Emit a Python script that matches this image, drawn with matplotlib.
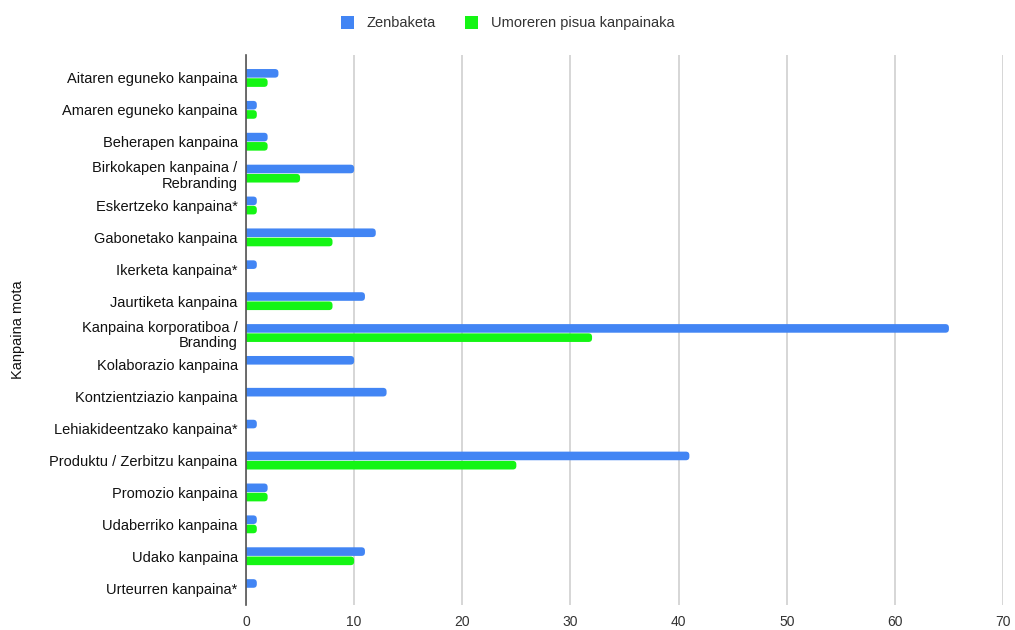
import matplotlib.pyplot as plt
from matplotlib.patches import FancyBboxPatch, Patch
import numpy as np

plt.rcParams['font.family'] = ['Liberation Sans', 'DejaVu Sans']

categories = [
    "Aitaren eguneko kanpaina",
    "Amaren eguneko kanpaina",
    "Beherapen kanpaina",
    "Birkokapen kanpaina /\nRebranding",
    "Eskertzeko kanpaina*",
    "Gabonetako kanpaina",
    "Ikerketa kanpaina*",
    "Jaurtiketa kanpaina",
    "Kanpaina korporatiboa /\nBranding",
    "Kolaborazio kanpaina",
    "Kontzientziazio kanpaina",
    "Lehiakideentzako kanpaina*",
    "Produktu / Zerbitzu kanpaina",
    "Promozio kanpaina",
    "Udaberriko kanpaina",
    "Udako kanpaina",
    "Urteurren kanpaina*",
]
zenbaketa = [3, 1, 2, 10, 1, 12, 1, 11, 65, 10, 13, 1, 41, 2, 1, 11, 1]
umorea = [2, 1, 2, 5, 1, 8, 0, 8, 32, 0, 0, 0, 25, 2, 1, 10, 0]
series_names = ['Zenbaketa', 'Umoreren pisua kanpainaka']
xticks = [0, 10, 20, 30, 40, 50, 60, 70]

blue = '#4285f4'
green = '#14f514'

W, H = 1015, 630
left_px, right_px, top_px, bottom_px = 246, 1003, 55, 605
fig = plt.figure(figsize=(W / 100, H / 100), dpi=100)
ax = fig.add_axes([left_px / W, 1 - bottom_px / H,
                   (right_px - left_px) / W, (bottom_px - top_px) / H])

n = len(categories)
y = np.arange(n)
ymin, ymax = -0.72, n - 1 + 0.53
xmax = 70
ax.set_ylim(ymax, ymin)
ax.set_xlim(0, xmax)

h = 0.27
b1 = ax.barh(y - h / 2 - 0.01, zenbaketa, height=h, color=blue, zorder=3)
b2 = ax.barh(y + h / 2 + 0.01, umorea, height=h, color=green, zorder=3)

# rounded right ends for the bars
xu_per_px = xmax / (right_px - left_px)
yu_per_px = (ymax - ymin) / (bottom_px - top_px)
r = 3.5 * xu_per_px
for cont, col in [(b1, blue), (b2, green)]:
    for rect in cont.patches:
        w = rect.get_width()
        rect.set_visible(False)
        if w <= 0:
            continue
        p = FancyBboxPatch((rect.get_x() - r, rect.get_y()), w + r, rect.get_height(),
                           boxstyle=f"round,pad=0,rounding_size={r}",
                           mutation_aspect=yu_per_px / xu_per_px,
                           facecolor=col, edgecolor='none', zorder=3)
        ax.add_patch(p)

ax.set_yticks(y)
ax.set_yticklabels(categories, fontsize=10.5, color='#111111', linespacing=1.15)
ax.set_xticks(xticks)
ax.set_xticklabels([str(v) for v in xticks], fontsize=10, color='#333333')
ax.tick_params(axis='x', length=0, pad=7)
ax.tick_params(axis='y', length=0, pad=6)
ax.grid(axis='x', color='#d0d0d0', linewidth=1.2, zorder=0)
for s in ['top', 'right', 'bottom']:
    ax.spines[s].set_visible(False)
ax.spines['left'].set_color('#555555')
ax.spines['left'].set_linewidth(1.2)
ax.spines['left'].set_zorder(4)

ax.set_ylabel('Kanpaina mota', fontsize=10.5, color='#111111')
ax.yaxis.set_label_coords((25 - left_px) / (right_px - left_px), 0.5)

handles = [Patch(facecolor=blue, edgecolor='none'), Patch(facecolor=green, edgecolor='none')]
fig.legend(handles, series_names, loc='upper center', bbox_to_anchor=(508 / W, 1 - 3 / H),
           ncol=2, frameon=False, fontsize=10.5, handlelength=0.85, handleheight=0.95,
           columnspacing=2.0, handletextpad=0.9, labelcolor='#333333')

fig.savefig('out.png', dpi=100, facecolor='white')
